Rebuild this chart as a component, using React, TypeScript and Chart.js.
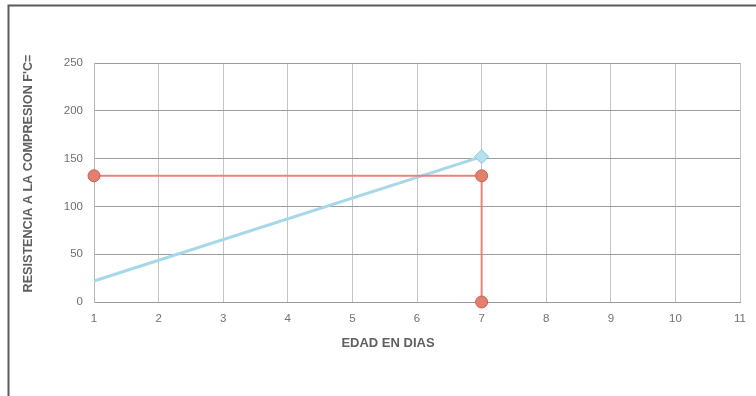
import React, { useEffect, useRef } from "react";
import { Chart, registerables } from "chart.js";

Chart.register(...registerables);

// Data
const lineAges = [1, 7];
const lineStrength = [22, 152];
const refAges = [1, 7, 7];
const refStrength = [132, 132, 0];
const xTickMin = 1;
const xTickMax = 11;
const yTickMin = 0;
const yTickMax = 250;
const yTickStep = 50;
const xTitle = "EDAD EN DIAS";
const yTitle = "RESISTENCIA A LA COMPRESION F'C=";

const FONT = "'Liberation Sans', Arial, sans-serif";

const decorPlugin = {
  id: "decor",
  afterDraw(chart: any) {
    const ctx = chart.ctx;
    const ca = chart.chartArea;
    ctx.save();
    // frame
    ctx.strokeStyle = "#5a5a5a";
    ctx.lineWidth = 2;
    ctx.beginPath();
    ctx.moveTo(756, 5.5);
    ctx.lineTo(8.5, 5.5);
    ctx.lineTo(8.5, 396);
    ctx.stroke();
    // axis titles
    ctx.fillStyle = "#606060";
    ctx.font = "bold 13px " + FONT;
    ctx.textAlign = "center";
    ctx.textBaseline = "middle";
    ctx.fillText(xTitle, 388, 343);
    ctx.translate(29, (ca.top + ca.bottom) / 2 - 9);
    ctx.rotate(-Math.PI / 2);
    ctx.font = "bold 12.6px " + FONT;
    ctx.fillText(yTitle, 0, 0);
    ctx.restore();
  },
};

export default function App() {
  const ref = useRef<HTMLCanvasElement>(null);
  useEffect(() => {
    const canvas = ref.current!;
    const chart = new Chart(canvas, {
      type: "scatter",
      data: {
        datasets: [
          {
            data: refAges.map((x, i) => ({ x, y: refStrength[i] })),
            showLine: true,
            borderColor: "#e6867a",
            borderWidth: 2,
            pointRadius: 6,
            pointStyle: "circle",
            pointBackgroundColor: "#e47f70",
            pointBorderColor: "#c8604f",
            pointBorderWidth: 1,
            clip: false,
          },
          {
            data: lineAges.map((x, i) => ({ x, y: lineStrength[i] })),
            showLine: true,
            borderColor: "#a6d8e8",
            borderWidth: 3,
            pointRadius: [0, 7],
            pointStyle: "rectRot",
            pointBackgroundColor: "#b4e0f0",
            pointBorderColor: "#8cc6dc",
            pointBorderWidth: 1,
            clip: false,
          },
        ],
      },
      options: {
        responsive: false,
        animation: false,
        devicePixelRatio: 1,
        layout: { padding: { top: 63, right: 12, bottom: 0, left: 0 } },
        plugins: { legend: { display: false }, tooltip: { enabled: false } },
        scales: {
          x: {
            type: "linear",
            min: xTickMin,
            max: xTickMax,
            ticks: {
              stepSize: 1,
              color: "#707070",
              font: { family: FONT, size: 11.5 },
              padding: 10,
            },
            grid: { color: "#c4c4c4", drawTicks: false, lineWidth: 1 },
            border: { color: "#9a9a9a", width: 1 },
            afterFit(scale: any) {
              scale.height = 94;
            },
          },
          y: {
            min: yTickMin,
            max: yTickMax,
            ticks: {
              stepSize: yTickStep,
              color: "#707070",
              font: { family: FONT, size: 11.5 },
              padding: 11,
            },
            grid: { color: "#9c9c9c", drawTicks: false, lineWidth: 1 },
            border: { color: "#b8b8b8", width: 1 },
            afterFit(scale: any) {
              scale.width = 94;
            },
          },
        },
      },
      plugins: [decorPlugin],
    } as any);
    return () => chart.destroy();
  }, []);
  return (
    <div style={{ position: "fixed", left: 0, top: 0, width: 756, height: 396, background: "#fff" }}>
      <canvas ref={ref} width={756} height={396} style={{ display: "block" }} />
    </div>
  );
}
